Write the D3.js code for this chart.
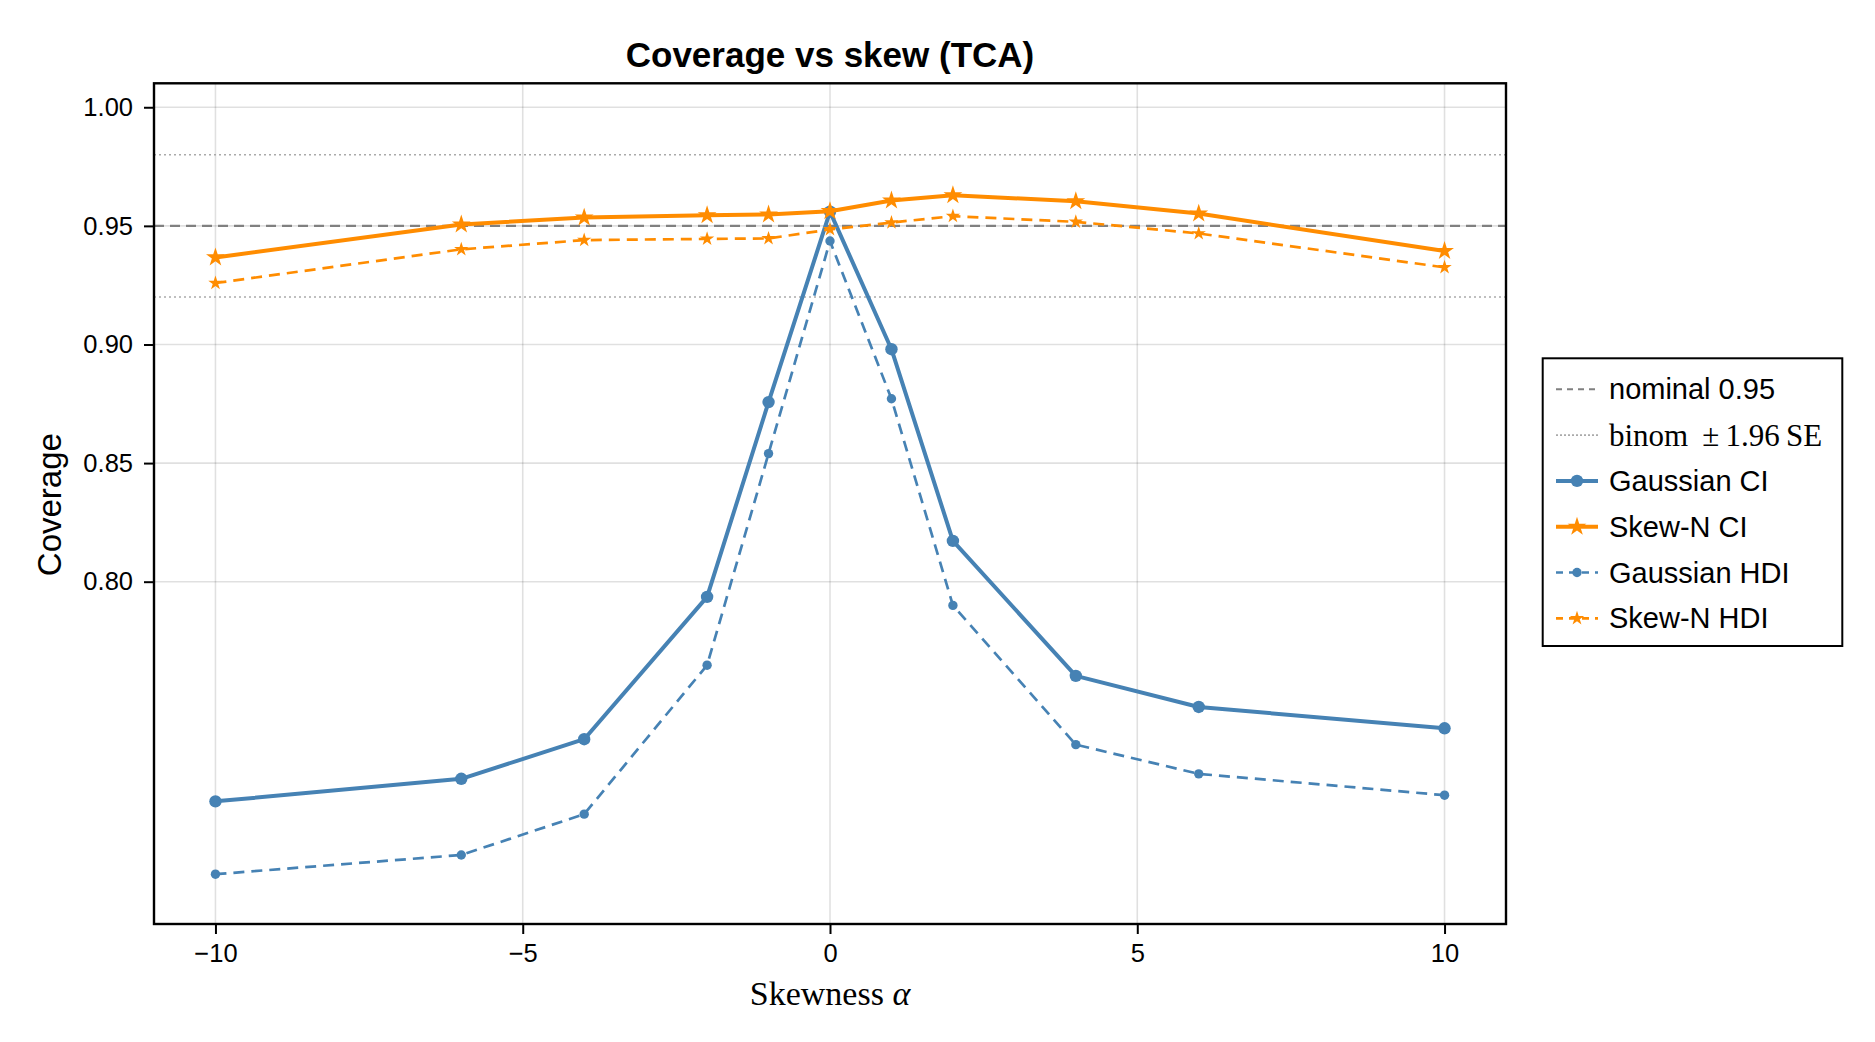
<!DOCTYPE html>
<html>
<head>
<meta charset="utf-8">
<script src="https://cdn.jsdelivr.net/npm/d3@7"></script>
<style>
  html, body { margin: 0; padding: 0; background: #fff; }
  svg { display: block; }
  .sans { font-family: "Liberation Sans", Arial, "Helvetica", sans-serif; }
  .serif { font-family: "Liberation Serif", "DejaVu Serif", serif; }
</style>
</head>
<body>
<svg id="chart" width="1875" height="1042"></svg>
<script>
// ---------------- data ----------------
const skewness = [-10, -6, -4, -2, -1, 0, 1, 2, 4, 6, 10];
const gaussianCI  = [0.7074, 0.7169, 0.7336, 0.7936, 0.8757, 0.9560, 0.8980, 0.8172, 0.7603, 0.7472, 0.7382];
const skewNCI     = [0.9367, 0.9506, 0.9535, 0.9545, 0.9548, 0.9562, 0.9607, 0.9629, 0.9604, 0.9552, 0.9394];
const gaussianHDI = [0.6767, 0.6848, 0.7020, 0.7648, 0.8540, 0.9436, 0.8771, 0.7900, 0.7313, 0.7190, 0.7100];
const skewNHDI    = [0.9259, 0.9401, 0.9440, 0.9445, 0.9447, 0.9485, 0.9514, 0.9541, 0.9517, 0.9468, 0.9325];
const nominal = 0.95;
const binomBand = [0.98, 0.92];
const xTicks = [-10, -5, 0, 5, 10];
const yTicks = [0.80, 0.85, 0.90, 0.95, 1.00];
const yTickLabels = ["0.80", "0.85", "0.90", "0.95", "1.00"];
const seriesNames = ["Gaussian CI", "Skew-N CI", "Gaussian HDI", "Skew-N HDI"];

// ---------------- layout ----------------
const plot = { left: 154, right: 1506, top: 83.3, bottom: 924 };
const blue = "#4682B4", orange = "#FF8C00";

const x = d3.scaleLinear().domain([-11, 11]).range([plot.left, plot.right]);
const y = d3.scaleLinear().domain([0.6557, 1.0101]).range([plot.bottom, plot.top]);

const svg = d3.select("#chart");

// grid
const grid = svg.append("g");
grid.selectAll("line.gx").data(xTicks).join("line")
  .attr("x1", d => x(d)).attr("x2", d => x(d))
  .attr("y1", plot.top).attr("y2", plot.bottom)
  .attr("stroke", "#000").attr("stroke-opacity", 0.12).attr("stroke-width", 1.6);
grid.selectAll("line.gy").data(yTicks).join("line")
  .attr("x1", plot.left).attr("x2", plot.right)
  .attr("y1", d => y(d)).attr("y2", d => y(d))
  .attr("stroke", "#000").attr("stroke-opacity", 0.12).attr("stroke-width", 1.6);

// reference lines
svg.append("line")
  .attr("x1", plot.left).attr("x2", plot.right)
  .attr("y1", y(nominal)).attr("y2", y(nominal))
  .attr("stroke", "#808080").attr("stroke-width", 2.2).attr("stroke-dasharray", "10,6");
svg.selectAll("line.binom").data(binomBand).join("line")
  .attr("x1", plot.left).attr("x2", plot.right)
  .attr("y1", d => y(d)).attr("y2", d => y(d))
  .attr("stroke", "#aaaaaa").attr("stroke-width", 1.6).attr("stroke-dasharray", "2,3");

// series
const series = [
  { name: seriesNames[0], vals: gaussianCI,  color: blue,   width: 4, dash: null,   sym: d3.symbolCircle, size: Math.PI * 6.2 * 6.2 },
  { name: seriesNames[1], vals: skewNCI,     color: orange, width: 4, dash: null,   sym: d3.symbolStar,   size: 110 },
  { name: seriesNames[2], vals: gaussianHDI, color: blue,   width: 2.7, dash: "11,7", sym: d3.symbolCircle, size: Math.PI * 4.7 * 4.7 },
  { name: seriesNames[3], vals: skewNHDI,    color: orange, width: 2.7, dash: "11,7", sym: d3.symbolStar,   size: 64 },
];

const line = d3.line().x(d => x(d[0])).y(d => y(d[1]));

series.forEach(s => {
  const pts = skewness.map((v, i) => [v, s.vals[i]]);
  const g = svg.append("g");
  g.append("path").datum(pts)
    .attr("d", line)
    .attr("fill", "none")
    .attr("stroke", s.color)
    .attr("stroke-width", s.width)
    .attr("stroke-linejoin", "round")
    .attr("stroke-dasharray", s.dash);
  g.selectAll("path.m").data(pts).join("path")
    .attr("transform", d => `translate(${x(d[0])},${y(d[1])})`)
    .attr("d", d3.symbol().type(s.sym).size(s.size))
    .attr("fill", s.color);
});

// frame
svg.append("rect")
  .attr("x", plot.left).attr("y", plot.top)
  .attr("width", plot.right - plot.left).attr("height", plot.bottom - plot.top)
  .attr("fill", "none").attr("stroke", "#000").attr("stroke-width", 2.4);

// axes
const xAxis = d3.axisBottom(x).tickValues(xTicks).tickSize(10).tickPadding(10)
  .tickFormat(d => d < 0 ? "\u2212" + Math.abs(d) : String(d));
const gx = svg.append("g").attr("transform", `translate(0,${plot.bottom})`).call(xAxis);
gx.select(".domain").remove();
gx.selectAll(".tick line").attr("stroke", "#000").attr("stroke-width", 2);
gx.selectAll(".tick text").attr("class", "sans").attr("font-size", 25.5).attr("fill", "#000");

const yAxis = d3.axisLeft(y).tickValues(yTicks).tickSize(10).tickPadding(11)
  .tickFormat((d, i) => yTickLabels[i]);
const gy = svg.append("g").attr("transform", `translate(${plot.left},0)`).call(yAxis);
gy.select(".domain").remove();
gy.selectAll(".tick line").attr("stroke", "#000").attr("stroke-width", 2);
gy.selectAll(".tick text").attr("class", "sans").attr("font-size", 25.5).attr("fill", "#000");

// title
svg.append("text").attr("class", "sans")
  .attr("x", (plot.left + plot.right) / 2).attr("y", 67)
  .attr("text-anchor", "middle").attr("font-size", 35).attr("font-weight", "bold")
  .text("Coverage vs skew (TCA)");

// y label
svg.append("text").attr("class", "sans")
  .attr("transform", `translate(61,${(plot.top + plot.bottom) / 2 + 1}) rotate(-90)`)
  .attr("text-anchor", "middle").attr("font-size", 33)
  .text("Coverage");

// x label
const xl = svg.append("text").attr("class", "serif")
  .attr("x", (plot.left + plot.right) / 2).attr("y", 1005)
  .attr("text-anchor", "middle").attr("font-size", 34);
xl.append("tspan").text("Skewness ");
xl.append("tspan").attr("font-style", "italic").text("\u03B1");

// legend
const leg = { x0: 1542.7, x1: 1842.3, y0: 358.3, y1: 646 };
svg.append("rect")
  .attr("x", leg.x0).attr("y", leg.y0)
  .attr("width", leg.x1 - leg.x0).attr("height", leg.y1 - leg.y0)
  .attr("fill", "#fff").attr("stroke", "#000").attr("stroke-width", 2);

const rowY = d3.scaleLinear().domain([0, 5]).range([389.3, 618.3]);
const sx0 = 1556, sx1 = 1598, tx = 1609;

const legendItems = [
  { label: "nominal 0.95", color: "#808080", width: 2, dash: "6,5", sym: null },
  { label: "binom", color: "#aaaaaa", width: 1.6, dash: "2,2", sym: null, math: true },
  ...series.map(s => ({ label: s.name, color: s.color, width: s.width, dash: s.dash ? "7,6" : null, sym: s.sym, size: s.size }))
];

legendItems.forEach((it, i) => {
  const cy = rowY(i);
  svg.append("line")
    .attr("x1", sx0).attr("x2", sx1).attr("y1", cy).attr("y2", cy)
    .attr("stroke", it.color).attr("stroke-width", it.width)
    .attr("stroke-dasharray", it.dash);
  if (it.sym) {
    svg.append("path")
      .attr("transform", `translate(${(sx0 + sx1) / 2},${cy})`)
      .attr("d", d3.symbol().type(it.sym).size(it.size))
      .attr("fill", it.color);
  }
  if (it.math) {
    const t = svg.append("text").attr("class", "serif")
      .attr("x", tx).attr("y", cy).attr("dy", "0.35em").attr("font-size", 31);
    t.append("tspan").text("binom");
    t.append("tspan").attr("dx", 14).text("\u00B1\u20091.96\u2009SE");
  } else {
    svg.append("text").attr("class", "sans")
      .attr("x", tx).attr("y", cy).attr("dy", "0.35em").attr("font-size", 29)
      .text(it.label);
  }
});
</script>
</body>
</html>
